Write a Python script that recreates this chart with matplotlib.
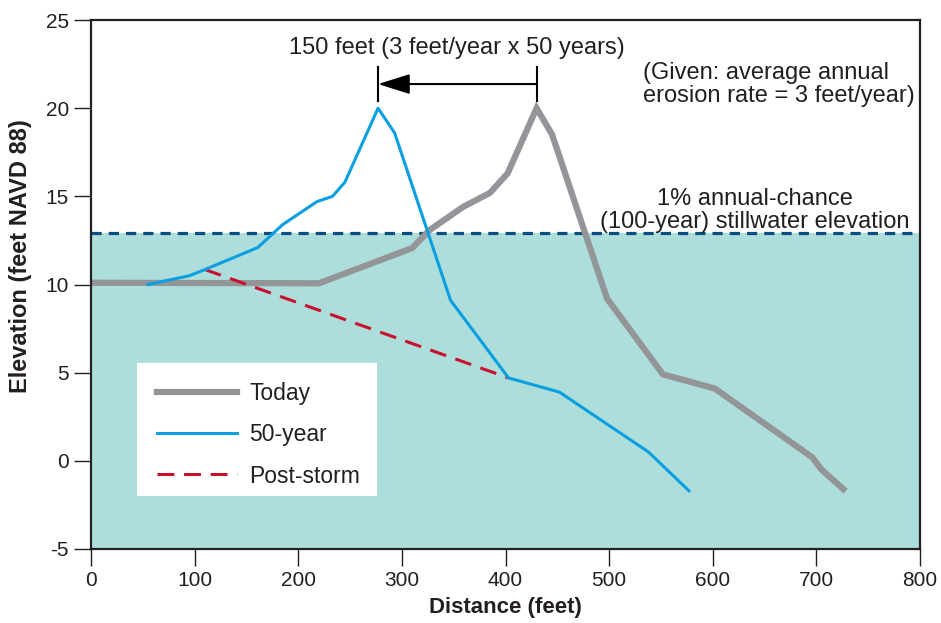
import numpy as np
import matplotlib
matplotlib.use("Agg")
import matplotlib.pyplot as plt
from matplotlib.patches import Rectangle

plt.rcParams['font.family'] = ['Liberation Sans', 'DejaVu Sans']
plt.rcParams['axes.unicode_minus'] = False

# profile data
today_x = [0, 220, 310, 327, 359, 385, 402, 430, 445, 498, 552, 602, 696, 705, 726]
today_y = [10.1, 10.07, 12.07, 13.1, 14.4, 15.2, 16.3, 20.0, 18.5, 9.2, 4.9, 4.1, 0.2, -0.5, -1.6]

year50_x = [55, 95, 110, 161, 185, 218, 233, 245, 277, 293, 347, 403, 452, 538, 577]
year50_y = [10.0, 10.5, 10.85, 12.1, 13.4, 14.7, 15.0, 15.8, 20.0, 18.6, 9.1, 4.7, 3.9, 0.5, -1.7]

storm_x = [110, 403]
storm_y = [10.85, 4.7]

stillwater = 12.9
ymin, ymax = -5, 25
xmin, xmax = 0, 800

txt = '#231f20'

fig = plt.figure(figsize=(9.41, 6.23), dpi=100)
ax = fig.add_axes([0.0967, 0.1188, 0.881, 0.849])

# flooded area + stillwater line
ax.fill_between([xmin, xmax], ymin, stillwater, color='#addedb', zorder=0, lw=0)
ax.plot([xmin, xmax], [stillwater, stillwater], color='#0b4f80', lw=2.3,
        dashes=(3.2, 2.2), zorder=1)

ax.plot(today_x, today_y, color='#939598', lw=4.5, solid_joinstyle='miter',
        label='Today', zorder=2)
ax.plot(storm_x, storm_y, color='#c8102e', lw=2.2, dashes=(5.5, 3.2),
        label='Post-storm', zorder=3)
ax.plot(year50_x, year50_y, color='#0a9fe0', lw=2.2, label='50-year', zorder=4)

# erosion arrow between the two dune crests
x_old = today_x[int(np.argmax(today_y))]
x_new = year50_x[int(np.argmax(year50_y))]
arrow_y = 21.37
ax.plot([x_new, x_new], [20.4, 22.35], color='black', lw=1.5, zorder=5)
ax.plot([x_old, x_old], [20.4, 22.35], color='black', lw=1.5, zorder=5)
ax.annotate('', xy=(x_new, arrow_y), xytext=(x_old, arrow_y),
            arrowprops=dict(arrowstyle='-|>,head_length=0.7,head_width=0.22',
                            color='black', lw=1.5,
                            mutation_scale=28, shrinkA=0, shrinkB=0))
ax.text(353, 23.4, '150 feet (3 feet/year x 50 years)', ha='center', va='center',
        fontsize=17, color=txt)
ax.text(533, 21.35, '(Given: average annual\nerosion rate = 3 feet/year)',
        ha='left', va='center', fontsize=17, color=txt, linespacing=1.1)
ax.text(641, 14.2, '1% annual-chance\n(100-year) stillwater elevation',
        ha='center', va='center', fontsize=17, color=txt, linespacing=1.1)

ax.set_xlim(xmin, xmax)
ax.set_ylim(ymin, ymax)
ax.set_xticks(np.arange(0, 801, 100))
ax.set_yticks(np.arange(-5, 26, 5))
ax.tick_params(direction='out', length=12, width=1, labelsize=15, colors=txt,
               labelcolor=txt, pad=4)
for s in ax.spines.values():
    s.set_linewidth(1.6)
    s.set_color(txt)

ax.set_xlabel('Distance (feet)', fontsize=16, fontweight='bold', color=txt,
              va='center')
ax.xaxis.set_label_coords(0.5, -0.11)
ax.set_ylabel('Elevation (feet NAVD 88)', fontsize=17, fontweight='bold', color=txt,
              va='center')
ax.yaxis.set_label_coords(-0.0845, 0.554)

# white legend panel
ax.add_patch(Rectangle((0.0555, 0.1), 0.2895, 0.2516, transform=ax.transAxes,
                       facecolor='white', edgecolor='none', zorder=4.5))
handles, labels = ax.get_legend_handles_labels()
order = [labels.index(n) for n in ['Today', '50-year', 'Post-storm']]
leg = ax.legend([handles[i] for i in order], [labels[i] for i in order],
                loc='upper left', bbox_to_anchor=(0.0796, 0.316), fontsize=16.5,
                frameon=False, handlelength=3.5, handletextpad=0.52,
                labelspacing=0.8, borderpad=0, borderaxespad=0)
for t in leg.get_texts():
    t.set_color(txt)

fig.savefig('out.png', dpi=100)
